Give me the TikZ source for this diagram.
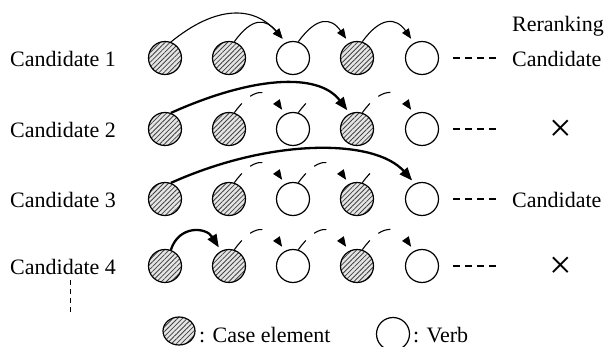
\documentclass[tikz,border=0pt]{standalone}
\usepackage{fontspec}
\setmainfont{Liberation Serif}
\usetikzlibrary{arrows.meta,patterns.meta,shapes.geometric}
\begin{document}
\begin{tikzpicture}[x=1pt,y=-1pt,
  every node/.style={font=\fontsize{22}{26}\selectfont},
  cnode/.style={circle,draw,line width=1.2pt,minimum size=33pt,inner sep=0pt},
  casenode/.style={cnode,preaction={fill=gray!20},pattern color=black!75,pattern={Lines[angle=45,distance=3.4pt,line width=0.8pt]}},
  verbnode/.style={cnode,fill=white},
  thinarc/.style={line width=1.1pt,-{Triangle[length=10pt,width=8pt]},shorten >=5pt},
  thickarc/.style={line width=2.3pt,-{Triangle[length=13pt,width=10pt]},shorten >=4pt},
  dasharc/.style={thinarc,dash pattern=on 12pt off 11pt on 13pt off 60pt},
  stubarc/.style={line width=1.1pt,dash pattern=on 12pt off 200pt},
  rdash/.style={line width=2.5pt,dash pattern=on 7pt off 5pt},
  lab/.style={anchor=base west,inner sep=0pt},
  xmark/.style={font=\fontsize{40}{40}\selectfont,inner sep=0pt}
]
\useasboundingbox (0,0) rectangle (607,347);
\foreach \r/\y in {1/58,2/129,3/199,4/266}{
  \node[casenode] (c\r1) at (165,\y) {};
  \node[casenode] (c\r2) at (229,\y) {};
  \node[verbnode] (c\r3) at (293,\y) {};
  \node[casenode] (c\r4) at (357,\y) {};
  \node[verbnode] (c\r5) at (422,\y) {};
  \node[lab] (l\r) at (10,\y+8.5) {Candidate \r};
  \coordinate (ds\r) at (453,\y);
  \coordinate (de\r) at (496,\y);
  \draw[rdash] (ds\r) -- (de\r);
}
% right column
\node[lab] (rr) at (512,32) {Reranking};
\node[lab] (r1) at (512,66.5) {Candidate};
\node[xmark] (r2) at (561,131) {×};
\node[lab] (r3) at (512,207.5) {Candidate};
\node[xmark] (r4) at (561,268) {×};
% row 1
\draw[thinarc] (c11.70) .. controls +(45,-37) and +(-32,-37) .. (c13.115);
\draw[thinarc] (c12.72) .. controls +(18,-25) and +(-20,-24) .. (c13.115);
\draw[thinarc] (c13.72) .. controls +(18,-25) and +(-18,-26) .. (c14.118);
\draw[thinarc] (c14.72) .. controls +(18,-25) and +(-18,-26) .. (c15.118);
% row 2
\draw[thickarc] (c21.70) .. controls +(80,-36) and +(-32,-42) .. (c24.115);
\draw[dasharc] (c22.72) .. controls +(18,-25) and +(-18,-26) .. (c23.118);
\draw[stubarc] (c23.72) .. controls +(18,-25) and +(-18,-26) .. (c24.118);
\draw[dasharc] (c24.72) .. controls +(18,-25) and +(-18,-26) .. (c25.118);
% row 3
\draw[thickarc] (c31.70) .. controls +(100,-45) and +(-40,-45) .. (c35.115);
\draw[dasharc] (c32.72) .. controls +(18,-25) and +(-18,-26) .. (c33.118);
\draw[dasharc] (c33.72) .. controls +(18,-25) and +(-18,-26) .. (c34.118);
\draw[stubarc] (c34.72) .. controls +(18,-25) and +(-18,-26) .. (c35.118);
% row 4
\draw[thickarc] (c41.70) .. controls +(8,-25) and +(-15,-24) .. (c42.118);
\draw[dasharc] (c42.72) .. controls +(18,-25) and +(-18,-26) .. (c43.118);
\draw[dasharc] (c43.72) .. controls +(18,-25) and +(-18,-26) .. (c44.118);
\draw[dasharc] (c44.72) .. controls +(18,-25) and +(-18,-26) .. (c45.118);
% vertical ellipsis
\coordinate (vt) at (70,280);
\coordinate (vb) at (70,313);
\draw[line width=0.9pt,dash pattern=on 5pt off 4pt] (vt) -- (vb);
% legend
\node[casenode,ellipse,minimum width=32pt,minimum height=28pt] (lgc) at (179,331) {};
\node[lab] (lgct) at (199,342) {: Case element};
\node[verbnode] (lgv) at (393,334) {};
\node[lab] (lgvt) at (413,342) {: Verb};
\end{tikzpicture}
\end{document}
